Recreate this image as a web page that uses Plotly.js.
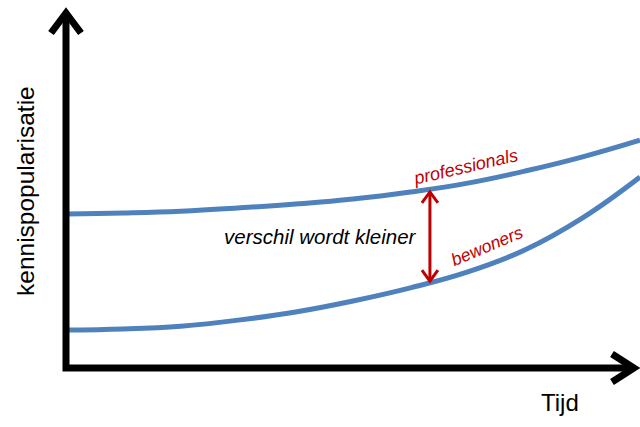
<!DOCTYPE html>
<html>
<head>
<meta charset="utf-8">
<script src="https://cdn.plot.ly/plotly-3.0.1.min.js"></script>
<style>
  html, body { margin: 0; padding: 0; background: #ffffff; }
  #chart { width: 640px; height: 427px; }
</style>
</head>
<body>
<div id="chart"></div>
<script>
// ---- data (arbitrary units) ----
const tijd = [0, 1, 2, 3, 4, 5, 6, 7, 8, 9, 10];
const professionals = [4.31, 4.34, 4.39, 4.48, 4.59, 4.73, 4.93, 5.18, 5.52, 5.92, 6.39];
const bewoners = [1.04, 1.07, 1.15, 1.32, 1.55, 1.86, 2.23, 2.68, 3.30, 4.20, 5.35];
const seriesNames = ["professionals", "bewoners"];
const gapAt = 6.34;            // time where the difference arrow is drawn
const gapTop = 4.93;           // arrow top (just under professionals)
const gapBottom = 2.42;        // arrow bottom (just above bewoners)
const xTitle = "Tijd";
const yTitle = "kennispopularisatie";
const gapLabel = "verschil wordt kleiner";

// ---- layout geometry ----
const W = 640, H = 427;
const M = { l: 66, r: 0, t: 12, b: 60 };
const pw = W - M.l - M.r, ph = H - M.t - M.b;
const xr = [0, 10], yr = [0, 10];
// pixel -> paper
const px = v => (v - M.l) / pw;
const py = v => (H - M.b - v) / ph;
// data -> pixel
const dx = v => M.l + (v - xr[0]) / (xr[1] - xr[0]) * pw;
const dy = v => H - M.b - (v - yr[0]) / (yr[1] - yr[0]) * ph;

function pathPx(pts) {
  return pts.map((p, i) => (i ? "L" : "M") + px(p[0]).toFixed(5) + "," + py(p[1]).toFixed(5)).join(" ");
}

const blue = "#4F81BD";
const red = "#C00000";

const traces = [
  { x: tijd, y: professionals, name: seriesNames[0], mode: "lines",
    line: { color: blue, width: 5, shape: "spline", smoothing: 1.2 }, hoverinfo: "skip" },
  { x: tijd, y: bewoners, name: seriesNames[1], mode: "lines",
    line: { color: blue, width: 5, shape: "spline", smoothing: 1.2 }, hoverinfo: "skip" }
];

// arrow geometry (pixels, derived from data positions)
const ax = dx(gapAt), aTop = dy(gapTop), aBot = dy(gapBottom);

const shapes = [
  // axes
  { type: "path", xref: "paper", yref: "paper", layer: "above",
    path: pathPx([[66, 14], [66, 368], [633, 368]]), line: { color: "#000", width: 7 } },
  { type: "path", xref: "paper", yref: "paper", layer: "above",
    path: pathPx([[51, 33], [66, 13], [81, 33]]), line: { color: "#000", width: 7 } },
  { type: "path", xref: "paper", yref: "paper", layer: "above",
    path: pathPx([[612, 354], [634, 368], [612, 382]]), line: { color: "#000", width: 7 } },
  // difference arrow
  { type: "path", xref: "paper", yref: "paper", layer: "above",
    path: pathPx([[ax, aTop + 2], [ax, aBot - 2]]), line: { color: red, width: 3 } },
  { type: "path", xref: "paper", yref: "paper", layer: "above",
    path: pathPx([[ax - 8, aTop + 11], [ax, aTop], [ax + 8, aTop + 11]]), line: { color: red, width: 3 } },
  { type: "path", xref: "paper", yref: "paper", layer: "above",
    path: pathPx([[ax - 8, aBot - 11], [ax, aBot], [ax + 8, aBot - 11]]), line: { color: red, width: 3 } }
];

const fontFam = "Liberation Sans, Arial, sans-serif";
function lab(text, x, y, size, color, angle) {
  return { text: text, xref: "paper", yref: "paper", x: px(x), y: py(y), showarrow: false,
    xanchor: "center", yanchor: "middle", textangle: angle || 0,
    font: { family: fontFam, size: size, color: color } };
}
const annotations = [
  lab(yTitle, 25, 191, 24.5, "#000", -90),
  lab(xTitle, 560, 402, 24, "#000", 0),
  lab("<i>" + gapLabel + "</i>", 320, 236, 20.5, "#000", 0),
  lab("<i>" + seriesNames[0] + "</i>", 465, 167, 18, red, -13),
  lab("<i>" + seriesNames[1] + "</i>", 487, 246, 17.5, red, -23)
];

const layout = {
  width: W, height: H,
  margin: M,
  paper_bgcolor: "#ffffff", plot_bgcolor: "#ffffff",
  showlegend: false,
  xaxis: { range: xr, visible: false, showgrid: false, zeroline: false, fixedrange: true },
  yaxis: { range: yr, visible: false, showgrid: false, zeroline: false, fixedrange: true },
  shapes: shapes,
  annotations: annotations
};

Plotly.newPlot("chart", traces, layout, { staticPlot: true, displayModeBar: false });
</script>
</body>
</html>
